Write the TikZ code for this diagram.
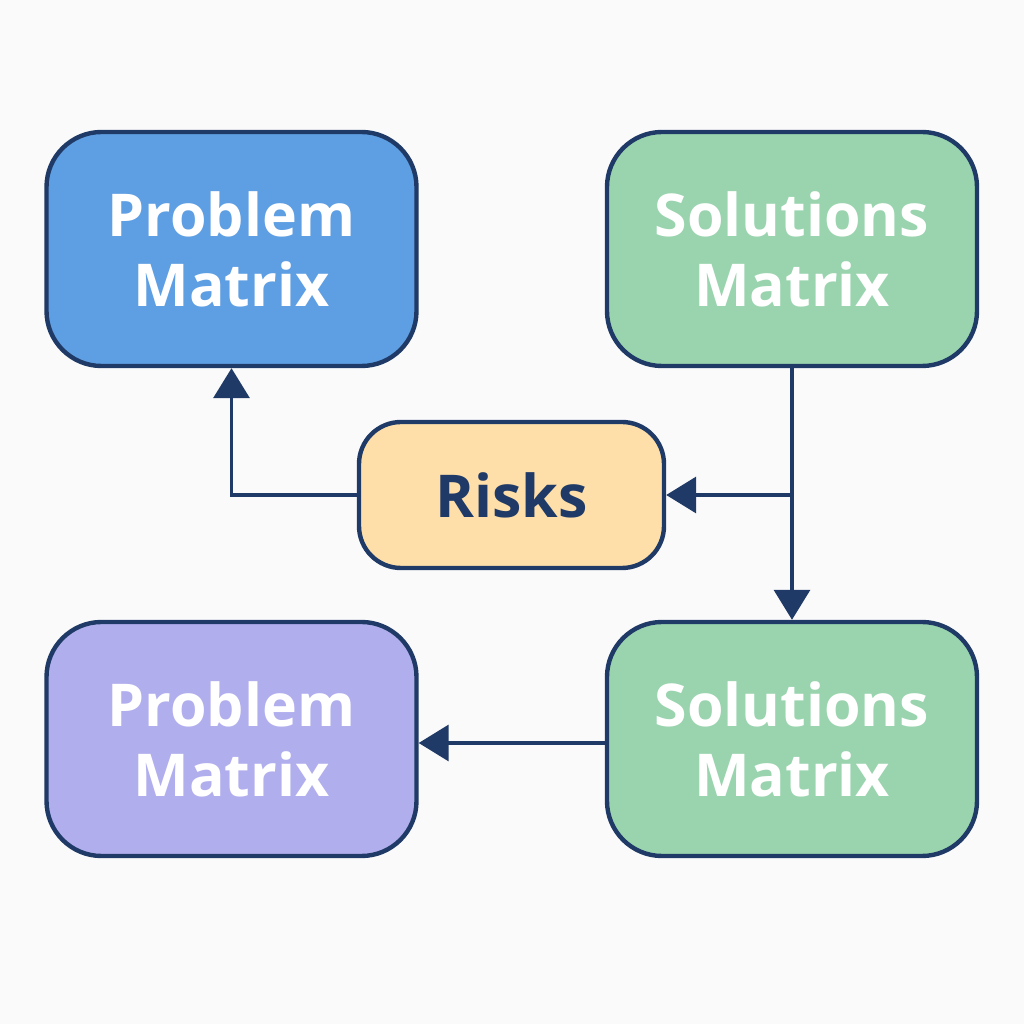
\documentclass[tikz,border=0pt]{standalone}
\usepackage{fontspec}
\setsansfont{Open Sans}
\usetikzlibrary{arrows.meta}

\definecolor{navy}{HTML}{1F3A66}
\definecolor{probblue}{HTML}{5E9EE3}
\definecolor{solgreen}{HTML}{99D4AE}
\definecolor{riskorange}{HTML}{FEDFAA}
\definecolor{problav}{HTML}{B1AEEE}
\definecolor{bgwhite}{HTML}{FAFAFA}

\tikzset{
    matrixbox/.style={draw=navy, line width=1.25pt, rounded corners=0.55cm,
        minimum width=3.7cm, minimum height=2.34cm, align=center,
        text=white, font=\sffamily\bfseries\fontsize{16.8}{19.9}\selectfont},
    riskbox/.style={matrixbox, rounded corners=0.42cm, minimum width=3.05cm,
        minimum height=1.46cm, text=navy},
    link/.style={draw=navy, line width=1pt, -{Triangle[width=0.36cm,length=0.3cm]}}
}

\begin{document}
\begin{tikzpicture}
                % Fond
                \fill[bgwhite] (0,0) rectangle (10.24,10.24);
                \useasboundingbox (0,0) rectangle (10.24,10.24);

                % Les boites
                \node[matrixbox, fill=probblue] (probTop) at (2.315,7.75) {Problem\\Matrix};
                \node[matrixbox, fill=solgreen] (solTop) at (7.92,7.75) {Solutions\\Matrix};
                \node[riskbox, fill=riskorange] (risks) at (5.115,5.29) {Risks};
                \node[matrixbox, fill=problav] (probBot) at (2.315,2.85) {Problem\\Matrix};
                \node[matrixbox, fill=solgreen] (solBot) at (7.92,2.85) {Solutions\\Matrix};

                % Point de branchement
                \coordinate (branch) at (solTop.south |- risks.east);

                % Les fleches
                \draw[link] (solTop.south) -- (solBot.north);
                \draw[link] (branch) -- (risks.east);
                \draw[link] (risks.west) -| (probTop.south);
                \draw[link] ([yshift=-0.04cm]solBot.west) -- ([yshift=-0.04cm]probBot.east);
            \end{tikzpicture}
\end{document}
